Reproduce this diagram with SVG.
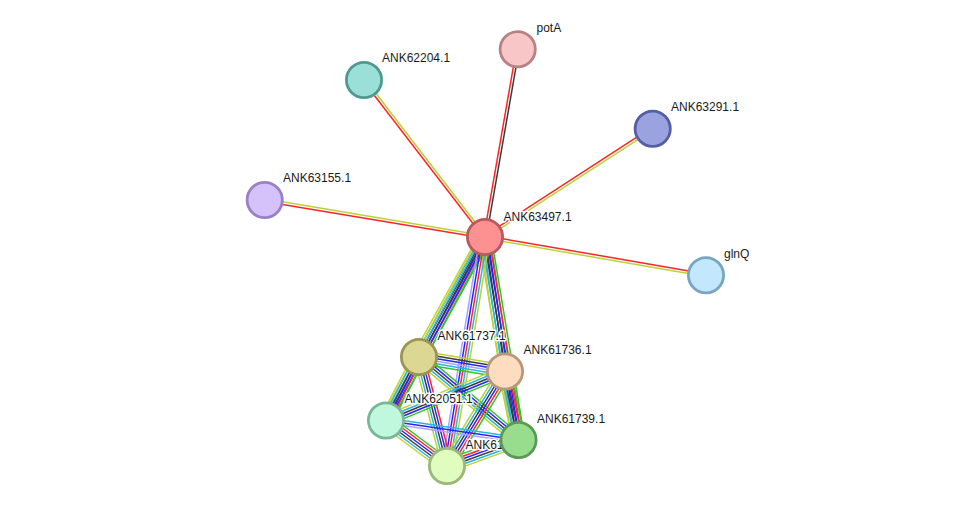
<svg xmlns="http://www.w3.org/2000/svg" xmlns:xlink="http://www.w3.org/1999/xlink" width="975" height="512" viewBox="0 0 975 512">
<style>
  .lbl { font-family: "Liberation Sans", Arial, sans-serif; font-size: 12px; fill: #1a1a1a; stroke: #ffffff; stroke-width: 3px; stroke-linejoin: round; paint-order: stroke; }
  .nd { stroke-width: 2.8px; }
  line { stroke-width: 1.5px; fill: none; }
  .g { stroke: #2ec42e; }
  .r { stroke: #ff2424; }
  .b { stroke: #2424ff; }
  .k { stroke: #3c3c3c; }
  .c { stroke: #2ab4e0; }
  .y { stroke: #bcd236; }
  .v { stroke: #a4a4ff; }
</style>
<defs>
  <g id="ry"><line class="r" x1="0" y1="-1.3" x2="1" y2="-1.3"/><line class="y" x1="0" y1="1.3" x2="1" y2="1.3"/></g>
  <g id="rk"><line class="r" x1="0" y1="-1.3" x2="1" y2="-1.3"/><line class="k" x1="0" y1="1.3" x2="1" y2="1.3"/></g>
  <g id="bA">
    <line class="g" x1="0" y1="-6.25" x2="1" y2="-6.25"/>
    <line class="r" x1="0" y1="-3.75" x2="1" y2="-3.75"/>
    <line class="b" x1="0" y1="-1.25" x2="1" y2="-1.25"/>
    <line class="k" x1="0" y1="1.25" x2="1" y2="1.25"/>
    <line class="c" x1="0" y1="3.75" x2="1" y2="3.75"/>
    <line class="y" x1="0" y1="6.25" x2="1" y2="6.25"/>
  </g>
  <g id="bB">
    <line class="g" x1="0" y1="-5" x2="1" y2="-5"/>
    <line class="b" x1="0" y1="-2.5" x2="1" y2="-2.5"/>
    <line class="k" x1="0" y1="0" x2="1" y2="0"/>
    <line class="c" x1="0" y1="2.5" x2="1" y2="2.5"/>
    <line class="y" x1="0" y1="5" x2="1" y2="5"/>
  </g>
  <g id="bF">
    <line class="y" x1="0" y1="-5" x2="1" y2="-5"/>
    <line class="c" x1="0" y1="-2.5" x2="1" y2="-2.5"/>
    <line class="r" x1="0" y1="0" x2="1" y2="0"/>
    <line class="b" x1="0" y1="2.5" x2="1" y2="2.5"/>
    <line class="v" x1="0" y1="5" x2="1" y2="5"/>
  </g>
  <g id="bG">
    <line class="y" x1="0" y1="-6.25" x2="1" y2="-6.25"/>
    <line class="k" x1="0" y1="-3.75" x2="1" y2="-3.75"/>
    <line class="b" x1="0" y1="-1.25" x2="1" y2="-1.25"/>
    <line class="v" x1="0" y1="1.25" x2="1" y2="1.25"/>
    <line class="c" x1="0" y1="3.75" x2="1" y2="3.75"/>
    <line class="g" x1="0" y1="6.25" x2="1" y2="6.25"/>
  </g>
  <g id="bC">
    <line class="r" x1="0" y1="-5" x2="1" y2="-5"/>
    <line class="b" x1="0" y1="-2.5" x2="1" y2="-2.5"/>
    <line class="k" x1="0" y1="0" x2="1" y2="0"/>
    <line class="c" x1="0" y1="2.5" x2="1" y2="2.5"/>
    <line class="y" x1="0" y1="5" x2="1" y2="5"/>
  </g>
  <g id="bD">
    <line class="c" x1="0" y1="-2.5" x2="1" y2="-2.5"/>
    <line class="b" x1="0" y1="0" x2="1" y2="0"/>
    <line class="v" x1="0" y1="2.5" x2="1" y2="2.5"/>
  </g>
</defs>
<g id="connectors">
  <use href="#rk" transform="translate(485 237) rotate(-80.1) scale(190.5 1)"/>
  <use href="#ry" transform="translate(485 237) rotate(-127.6) scale(198.2 1)"/>
  <use href="#ry" transform="translate(485 237) rotate(-32.9) scale(199.6 1)"/>
  <use href="#ry" transform="translate(485 237) rotate(-170.5) scale(223.4 1)"/>
  <use href="#ry" transform="translate(485 237) rotate(9.83) scale(224.3 1)"/>
  <use href="#bA" transform="translate(485 237) rotate(118.81) scale(136.95 1)"/>
  <use href="#bB" transform="translate(485 237) rotate(81.54) scale(135.98 1)"/>
  <use href="#bB" transform="translate(485 237) rotate(118.35) scale(208.5 1)"/>
  <use href="#bA" transform="translate(485 237) rotate(80.63) scale(205.7 1)"/>
  <use href="#bF" transform="translate(485 237) rotate(99.42) scale(232.1 1)"/>
  <use href="#bG" transform="translate(419 357) rotate(9.57) scale(87.2 1)"/>
  <use href="#bA" transform="translate(419 357) rotate(117.46) scale(71.56 1)"/>
  <use href="#bB" transform="translate(419 357) rotate(39.83) scale(129.6 1)"/>
  <use href="#bC" transform="translate(419 357) rotate(75.59) scale(112.5 1)"/>
  <use href="#bB" transform="translate(505 371.5) rotate(157.62) scale(128.7 1)"/>
  <use href="#bA" transform="translate(505 371.5) rotate(78.85) scale(69.8 1)"/>
  <use href="#bA" transform="translate(505 371.5) rotate(121.54) scale(110.9 1)"/>
  <use href="#bD" transform="translate(386 420.5) rotate(8.37) scale(133.9 1)"/>
  <use href="#bA" transform="translate(386 420.5) rotate(36.72) scale(76.1 1)"/>
  <use href="#bA" transform="translate(447 466) rotate(-19.98) scale(76.1 1)"/>
</g>
<g id="potA"><circle class="nd" cx="517.7" cy="49.3" r="17.6" fill="#f8c6c6" stroke="#b88282"/><text class="lbl" x="536.5" y="31.5">potA</text></g>
<g id="ANK62204.1"><circle class="nd" cx="364" cy="80" r="17.6" fill="#9be0d8" stroke="#4f9a90"/><text class="lbl" x="382" y="62">ANK62204.1</text></g>
<g id="ANK63291.1"><circle class="nd" cx="652.7" cy="128.7" r="17.6" fill="#9aa3e0" stroke="#555ea0"/><text class="lbl" x="671" y="111">ANK63291.1</text></g>
<g id="ANK63155.1"><circle class="nd" cx="264.7" cy="200" r="17.6" fill="#d5c2fa" stroke="#9a80c8"/><text class="lbl" x="283" y="182">ANK63155.1</text></g>
<g id="glnQ"><circle class="nd" cx="706" cy="275.3" r="17.6" fill="#c3e7fb" stroke="#7aa5c2"/><text class="lbl" x="724" y="258">glnQ</text></g>
<g id="ANK63497.1"><circle class="nd" cx="485" cy="237" r="17.6" fill="#fd9191" stroke="#b85a5a"/><text class="lbl" x="503.5" y="220.5">ANK63497.1</text></g>
<g id="ANK61737.1"><circle class="nd" cx="419" cy="357" r="17.6" fill="#dcd894" stroke="#9a9455"/><text class="lbl" x="437.5" y="339.5">ANK61737.1</text></g>
<g id="ANK61736.1"><circle class="nd" cx="505" cy="371.5" r="17.6" fill="#fddcc0" stroke="#b8987a"/><text class="lbl" x="523.5" y="354">ANK61736.1</text></g>
<g id="ANK62051.1"><circle class="nd" cx="386" cy="420.5" r="17.6" fill="#bff8dc" stroke="#78b898"/><text class="lbl" x="404.5" y="402.5">ANK62051.1</text></g>
<g id="ANK61738.1"><circle class="nd" cx="447" cy="466" r="17.6" fill="#e0fcbe" stroke="#9ab878"/><text class="lbl" x="465.5" y="448.5">ANK61738.1</text></g>
<g id="ANK61739.1"><circle class="nd" cx="518.5" cy="440" r="17.6" fill="#98dc8e" stroke="#5a9a55"/><text class="lbl" x="537" y="423">ANK61739.1</text></g>
</svg>
